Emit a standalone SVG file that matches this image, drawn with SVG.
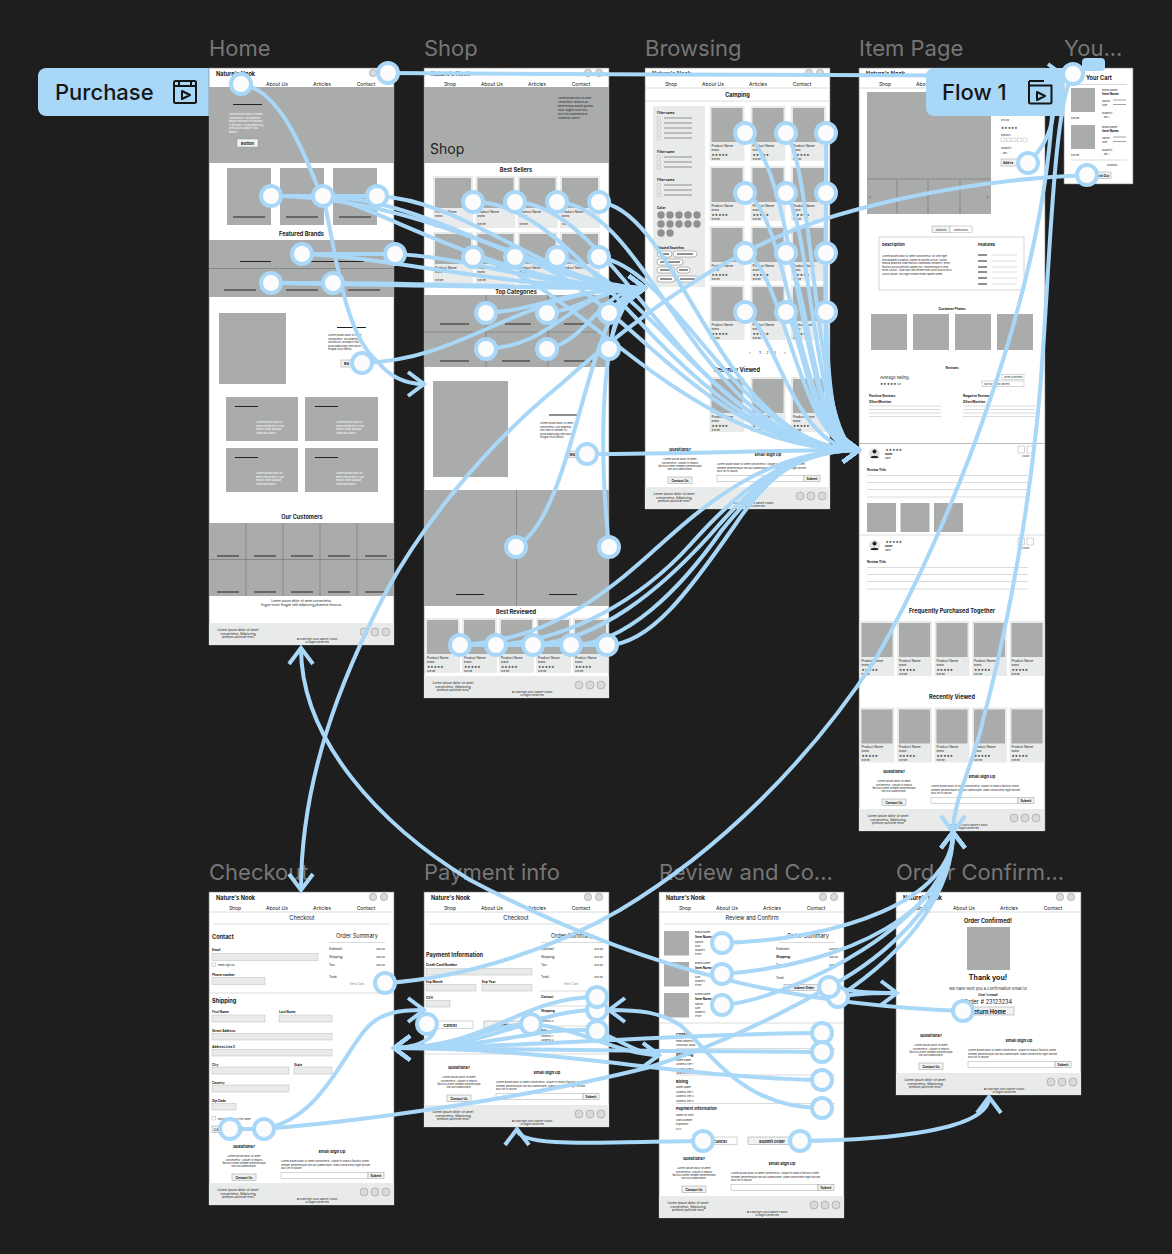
<svg xmlns="http://www.w3.org/2000/svg" width="1172" height="1254" viewBox="0 0 1172 1254">
<style>
text{font-family:Inter,"Liberation Sans",sans-serif;fill:#222}
.title{font-size:22px;fill:#767676}
.s2{font-size:2.6px}.s3{font-size:3.2px}.s4{font-size:4px}.s5{font-size:5px}.s6{font-size:5.6px}.s7{font-size:7px}
.b{font-weight:700}.m{text-anchor:middle}.e{text-anchor:end}.w{fill:#fff}.gt{fill:#8a8a8a}
.star{font-family:"DejaVu Sans",sans-serif;font-size:3.6px;letter-spacing:.1px}
.fr{fill:#fff;stroke:#777;stroke-width:.6}
.g{fill:#aaacab}.l{fill:#e9ebea}
.k{stroke:#222;stroke-width:1;fill:none}.ln{stroke:#c9cbca;stroke-width:.7;fill:none}.v{stroke:#787a79;stroke-width:.7;fill:none}
.in{fill:#e9ebea;stroke:#bbb;stroke-width:.5}.bt{fill:#f1f2f2;stroke:#999;stroke-width:.5}.wb{fill:#fff;stroke:#aaa;stroke-width:.5}
.ic{fill:#d9dbda;stroke:#777;stroke-width:.4}
.badge{fill:#a8d7f8}.bd{font-size:22px;font-weight:500;fill:#161616}.bi{fill:none;stroke:#161616;stroke-width:2;stroke-linejoin:round}
#connectors path{fill:none;stroke:#a8d7f8;stroke-width:4;marker-end:url(#arrow)}
#connectors path.n{marker-end:none}
.h{fill:#fcfcfc;stroke:#a8d7f8;stroke-width:4}
</style>
<defs>
<marker id="arrow" markerUnits="userSpaceOnUse" markerWidth="22" markerHeight="32" viewBox="0 0 22 32" refX="19" refY="16" orient="auto"><path d="M3,4 L19,16 L3,28" fill="none" stroke="#a8d7f8" stroke-width="4"/></marker>
<g id="hdr"><text class="s6 b" x="7" y="8">Nature's Nook</text><circle class="ic" cx="164" cy="5" r="3.7"/><circle class="ic" cx="175" cy="5" r="3.7"/><text class="s5 m" x="26" y="18">Shop</text><text class="s5 m" x="68" y="18">About Us</text><text class="s5 m" x="113" y="18">Articles</text><text class="s5 m" x="157" y="18">Contact</text><path class="ln" d="M0,20H185"/></g>
<g id="foot"><rect class="l" width="185" height="22"/><text class="s3 m" x="29" y="8">Lorem ipsum dolor sit amet</text><text class="s3 m" x="29" y="11.5">consectetur. Adipiscing</text><text class="s3 m" x="29" y="15">pretium pulvinar eros</text><text class="s2 m" x="108" y="17">© Copyright 2024 Nature's Nook</text><text class="s2 m" x="108" y="20">All Rights Reserved</text><circle class="ic" cx="155" cy="9" r="4"/><circle class="ic" cx="166" cy="9" r="4"/><circle class="ic" cx="177" cy="9" r="4"/></g>
<g id="qa"><text class="s4 b m" x="35" y="0">Questions?</text><text class="s2 m" x="35" y="9">Lorem ipsum dolor sit amet</text><text class="s2 m" x="35" y="12.5">consectetur. Aliquet in mauris</text><text class="s2 m" x="35" y="16">facilisis lorem semper pellentesque</text><text class="s2 m" x="35" y="19">non dui ullamcorper.</text><rect class="bt" x="23" y="26" width="24" height="6.5"/><text class="s3 b m" x="35" y="30.5">Contact Us</text><text class="s4 b m" x="123" y="5">Email Sign Up</text><text class="s2" x="72" y="14">Lorem ipsum dolor sit amet consectetur. Aliquet in mauris facilisis lorem</text><text class="s2" x="72" y="17.5">semper pellentesque non dui ullamcorper. Diam consectetur eget dictum</text><text class="s2" x="72" y="21">duis vel in ipsum.</text><rect class="wb" x="72" y="24.5" width="87" height="6"/><rect class="bt" x="159" y="24.5" width="16" height="6"/><text class="s3 b m" x="167" y="29">Submit</text></g>
<g id="card"><rect class="l" width="35" height="55"/><rect class="g" x="2" y="2" width="31" height="34"/><text class="s3" x="2" y="40.5">Product Name</text><text class="s2" x="2" y="44.5">Brand</text><text class="star" x="2" y="49.7">★★★★★</text><text class="s2" x="2" y="53.5">$19.99</text></g>
<g id="card2"><rect class="l" width="40" height="52"/><rect class="g" x="2" y="2" width="36" height="30"/><text class="s3" x="2" y="37">Product Name</text><text class="s2" x="2" y="41">Brand</text><text class="s2" x="2" y="49">$19.99</text></g>
</defs>
<rect width="1172" height="1254" fill="#1e1e1e"/>
<text class="title" x="209" y="56">Home</text>
<text class="title" x="424" y="56">Shop</text>
<text class="title" x="645" y="56">Browsing</text>
<text class="title" x="859" y="56">Item Page</text>
<text class="title" x="1064" y="56">You...</text>
<text class="title" x="209" y="880">Checkout</text>
<text class="title" x="424" y="880">Payment info</text>
<text class="title" x="659" y="880">Review and Co...</text>
<text class="title" x="896" y="880">Order Confirm...</text>
<g id="flow-purchase"><rect class="badge" x="38" y="68" width="190" height="48" rx="8"/><text class="bd" x="55" y="100">Purchase</text><rect class="bi" x="174" y="81" width="22" height="22" rx="1.5"/><path class="bi" d="M174,86H196M179,81V86M191,81V86M182,91L190,95L182,99Z"/></g>

<g id="home"><rect class="fr" x="209" y="68" width="185" height="577"/><use href="#hdr" x="209" y="68"/>
<rect class="g" x="209" y="87" width="185" height="76"/><path class="k" d="M233,104.5H262"/>
<text class="s2 w" x="229" y="115">Lorem ipsum dolor sit amet</text><text class="s2 w" x="229" y="118.5">consectetur. Dui pharetra</text><text class="s2 w" x="229" y="122">neque sed dolor in volutpat</text><text class="s2 w" x="229" y="125.5">in faucibus. Nulla adipiscing</text><text class="s2 w" x="229" y="129">sem auctor aliquet risus</text><text class="s2 w" x="229" y="132.5">facilisi.</text>
<rect class="bt" x="237" y="139" width="21" height="8"/><text class="s4 b m" x="247.500" y="144.500">Button</text>
<rect class="g" x="227" y="168" width="44" height="57"/><rect class="g" x="280" y="168" width="44" height="57"/><rect class="g" x="333" y="168" width="44" height="57"/>
<path class="k" d="M233,217H265M286,217H318M339,217H371"/>
<text class="s6 b m" x="301.500" y="236">Featured Brands</text>
<rect class="g" x="209" y="240" width="185" height="57"/><path class="v" d="M209,268.500H394"/>
<path class="k" d="M240,261.500H271M302,261.500H334M337,261.500H364M224,290H256M286,290H318M348,290H380"/>
<rect class="g" x="219" y="313" width="67" height="71"/><path class="k" d="M337,327.500H366"/>
<text class="s2" x="328" y="336">Lorem ipsum dolor sit amet</text><text class="s2" x="328" y="339.500">consectetur. Dui pharetra</text><text class="s2" x="328" y="343">sed facilisi volutpat in fau.</text><text class="s2" x="328" y="346.500">Nulla adipiscing sem aucto</text><text class="s2" x="328" y="350">feugiat risus facilisi.</text>
<rect class="bt" x="341" y="360" width="21" height="7"/><text class="s4 b" x="344" y="365">Ba</text>
<rect class="g" x="226" y="397" width="72" height="44"/><rect class="g" x="305" y="397" width="73" height="44"/><rect class="g" x="226" y="448" width="72" height="44"/><rect class="g" x="305" y="448" width="73" height="44"/>
<path class="k" d="M235,406.500H258M315,406.500H338M235,457.500H258M315,457.500H338"/>
<text class="s2 w" x="256" y="423">Lorem ipsum dolor sit</text><text class="s2 w" x="256" y="426.500">amet consectetur. Duis</text><text class="s2 w" x="256" y="430">mauris vitae aliquam</text><text class="s2 w" x="256" y="433.500">vitae odio libero.</text>
<text class="s2 w" x="336" y="423">Lorem ipsum dolor sit</text><text class="s2 w" x="336" y="426.500">amet consectetur. Duis</text><text class="s2 w" x="336" y="430">mauris vitae aliquam</text><text class="s2 w" x="336" y="433.500">vitae odio libero.</text>
<text class="s2 w" x="256" y="474">Lorem ipsum dolor sit</text><text class="s2 w" x="256" y="477.500">amet consectetur. Duis</text><text class="s2 w" x="256" y="481">mauris vitae aliquam</text><text class="s2 w" x="256" y="484.500">vitae odio libero.</text>
<text class="s2 w" x="336" y="474">Lorem ipsum dolor sit</text><text class="s2 w" x="336" y="477.500">amet consectetur. Duis</text><text class="s2 w" x="336" y="481">mauris vitae aliquam</text><text class="s2 w" x="336" y="484.500">vitae odio libero.</text>
<text class="s6 b m" x="302" y="519">Our Customers</text>
<rect class="g" x="209" y="523" width="185" height="73"/><path class="v" d="M209,559.500H394M246,523V596M283,523V596M320,523V596M357,523V596"/>
<path class="k" d="M217,556H239M254,556H276M291,556H313M328,556H350M365,556H387M217,592H239M254,592H276M291,592H313M328,592H350M365,592H387"/>
<text class="s3 m" x="301.500" y="601.500">Lorem ipsum dolor sit amet consectetur.</text><text class="s3 m" x="301.500" y="605.500">Augue tortor feugiat velit adipiscing pharetra rhoncus.</text>
<use href="#foot" x="209" y="623"/></g>

<g id="shop"><rect class="fr" x="424" y="68" width="185" height="630"/><use href="#hdr" x="424" y="68"/>
<rect class="g" x="424" y="87" width="185" height="76"/>
<text class="s2" x="558" y="98.500">Lorem ipsum dolor sit amet</text><text class="s2" x="558" y="102.500">consectetur. Rhoncus ac</text><text class="s2" x="558" y="106.500">pellentesque blandit gravida</text><text class="s2" x="558" y="110.500">nulla. Sagittis nulla risus</text><text class="s2" x="558" y="114.500">arcu nisi suspendisse at</text><text class="s2" x="558" y="118.500">commodo viverra.</text>
<text x="430" y="153.500" font-size="14">Shop</text>
<text class="s6 b m" x="516" y="172">Best Sellers</text>
<use href="#card2" x="433" y="176"/><use href="#card2" x="475.500" y="176"/><use href="#card2" x="517.500" y="176"/><use href="#card2" x="560" y="176"/>
<use href="#card2" x="433" y="232"/><use href="#card2" x="475.500" y="232"/><use href="#card2" x="517.500" y="232"/><use href="#card2" x="560" y="232"/>
<text class="s6 b m" x="516" y="294">Top Categories</text>
<rect class="g" x="424" y="295" width="185" height="72"/><path class="v" d="M424,332H609M486,295V367M548,295V367"/>
<path class="k" d="M440,324H469M505,324H531M564,324H592M440,361H469M502,361H530M564,361H592"/>
<rect class="g" x="433" y="381" width="75" height="96"/><path class="k" d="M549,415H578"/>
<text class="s2" x="540" y="424">Lorem ipsum dolor sit amet</text><text class="s2" x="540" y="427.500">consectetur. Dui pharetra</text><text class="s2" x="540" y="431">non nibh in semper fu</text><text class="s2" x="540" y="434.500">Nulla adipiscing sem aucto</text><text class="s2" x="540" y="438">feugiat risus facilisi.</text>
<rect class="bt" x="569" y="451" width="12" height="6.500"/><text class="s4 b" x="570" y="456">Bu</text>
<rect class="g" x="424" y="490" width="185" height="116"/><path class="v" d="M516.500,490V606"/><path class="k" d="M456,594.500H484M549,594.500H577"/>
<text class="s6 b m" x="516" y="614">Best Reviewed</text>
<use href="#card" x="425" y="618"/><use href="#card" x="462" y="618"/><use href="#card" x="499" y="618"/><use href="#card" x="536" y="618"/><use href="#card" x="573" y="618"/>
<use href="#foot" x="424" y="676"/></g>

<g id="browsing"><rect class="fr" x="645" y="68" width="185" height="441"/><use href="#hdr" x="645" y="68"/>
<text class="s6 b m" x="737.500" y="96.500">Camping</text><path class="ln" d="M645,101H830"/>
<rect class="l" x="653" y="106" width="52" height="181"/>
<text class="s3 b" x="657" y="114">Filter name</text><text class="s3 b" x="657" y="153">Filter name</text><text class="s3 b" x="657" y="181">Filter name</text><text class="s3 b" x="657" y="209">Color</text><text class="s3 b" x="657" y="249">Related Searches</text>
<path class="ln" stroke-width=".5" d="M657,116.500h3.500v3.500h-3.500zM657,121.500h3.500v3.500h-3.500zM657,126.500h3.500v3.500h-3.500zM657,131.500h3.500v3.500h-3.500zM657,136.500h3.500v3.500h-3.500zM657,155.500h3.500v3.500h-3.500zM657,160.500h3.500v3.500h-3.500zM657,165.500h3.500v3.500h-3.500zM657,183.500h3.500v3.500h-3.500zM657,188.500h3.500v3.500h-3.500zM657,193.500h3.500v3.500h-3.500z"/>
<path stroke="#555" stroke-width=".6" fill="none" d="M664,118H692M664,123H692M664,128H692M664,133H692M664,138H692M664,157H692M664,162H692M664,167H692M664,185H692M664,190H692M664,195H692"/>
<g fill="#8f9190"><circle cx="661" cy="215" r="3.700"/><circle cx="670" cy="215" r="3.700"/><circle cx="679" cy="215" r="3.700"/><circle cx="688" cy="215" r="3.700"/><circle cx="697" cy="215" r="3.700"/><circle cx="661" cy="224" r="3.700"/><circle cx="670" cy="224" r="3.700"/><circle cx="679" cy="224" r="3.700"/><circle cx="688" cy="224" r="3.700"/><circle cx="697" cy="224" r="3.700"/><circle cx="661" cy="233" r="3.700"/><circle cx="670" cy="233" r="3.700"/></g>
<g fill="#fff" stroke="#555" stroke-width=".4"><rect x="657" y="251" width="15" height="6" rx="3"/><rect x="673" y="251" width="24" height="6" rx="3"/><rect x="657" y="259" width="26" height="6" rx="3"/><rect x="657" y="267" width="18" height="6" rx="3"/><rect x="677" y="267" width="13" height="6" rx="3"/><rect x="657" y="276" width="18" height="6" rx="3"/><rect x="677" y="276" width="21" height="6" rx="3"/></g>
<path class="k" stroke-width=".7" d="M660,254H669M677,254H693M660,262H680M660,270H672M679,270H688M660,279H672M680,279H695"/>
<use href="#card" x="709.500" y="106"/><use href="#card" x="750.500" y="106"/><use href="#card" x="791" y="106"/>
<use href="#card" x="709.500" y="166"/><use href="#card" x="750.500" y="166"/><use href="#card" x="791" y="166"/>
<use href="#card" x="709.500" y="226"/><use href="#card" x="750.500" y="226"/><use href="#card" x="791" y="226"/>
<use href="#card" x="709.500" y="285"/><use href="#card" x="750.500" y="285"/><use href="#card" x="791" y="285"/>
<text class="s4 m" x="750" y="353.500">‹</text><text class="s3 b m" x="760" y="353.500">1</text><text class="s3 m" x="767.500" y="353.500">2</text><text class="s3 m" x="775" y="353.500">3</text><text class="s4 m" x="785" y="353.500">›</text>
<text class="s6 b m" x="737" y="372">Recently Viewed</text>
<use href="#card" x="709.500" y="377"/><use href="#card" x="750.500" y="377"/><use href="#card" x="791" y="377"/>
<use href="#qa" x="645" y="451"/><use href="#foot" x="645" y="487"/></g>

<g id="item-page"><rect class="fr" x="859" y="68" width="186" height="763"/><use href="#hdr" x="859" y="68"/>
<rect class="g" x="867" y="92" width="124" height="122"/><path class="v" d="M867,179H991M897,179V214M928,179V214M960,179V214"/>
<text class="s5 m" x="870" y="198.500">‹</text><text class="s5 m" x="987.500" y="198.500">›</text>
<text class="s2" x="1001" y="120.500">$15.00</text><text class="star" x="1001" y="129">★★★★★</text><text class="s2" x="1001" y="136">Options</text>
<path class="ln" stroke="#555" d="M1001,138h4v3.500h-4zM1006.500,138h4v3.500h-4zM1012,138h4v3.500h-4zM1017.500,138h4v3.500h-4zM1023,138h4v3.500h-4z"/>
<text class="s2" x="1001" y="149">Quantity</text><text class="s2" x="1001" y="154">- 99 +</text>
<rect class="bt" x="1001" y="159" width="19" height="7"/><text class="s3 b" x="1003" y="164">Add to</text>
<rect class="bt" x="932" y="226" width="18" height="6.500"/><rect class="wb" x="950" y="226" width="22" height="6.500"/><text class="s2 m" x="941" y="230.500">Features</text><text class="s2 m" x="961" y="230.500">Dimensions</text>
<rect class="wb" x="879" y="237" width="145" height="53"/><text class="s4 b" x="882" y="246">Description</text><text class="s4 b" x="978" y="246">Features</text>
<text class="s2" x="882" y="257">Lorem ipsum dolor sit amet consectetur. Sit velit eget</text><text class="s2" x="882" y="260.500">sed aliquam curabitur, donec at lacinia cursus. Morbi</text><text class="s2" x="882" y="264">massa pharetra vitae facilisis commodo hendrerit. Enim</text><text class="s2" x="882" y="267.500">facilisis purus pretium sapien nisl. Pellentesque in erat</text><text class="s2" x="882" y="271">enim cursus. Vitae quis sed fermentum sociis purus arcu</text><text class="s2" x="882" y="274.500">luctus ipsum. Nisl eget ornare etiam sapien lorem.</text>
<path class="k" d="M978,255H987M978,261H987M978,267H987M978,272H987M978,278H987M978,284H987"/><path class="ln" d="M992,255H1017M992,261H1017M992,267H1017M992,272H1017M992,278H1017M992,284H1017"/>
<text class="s3 b m" x="952" y="309.500">Customer Photos</text>
<rect class="g" x="871" y="314" width="36" height="36"/><rect class="g" x="913" y="314" width="36" height="36"/><rect class="g" x="955" y="314" width="36" height="36"/><rect class="g" x="997" y="314" width="36" height="36"/>
<text class="s3 b m" x="952" y="368.500">Reviews</text><text class="s4" x="880" y="378.500">Average Rating:</text><text class="star" x="880" y="384.500">★★★★★</text><text class="s2" x="897" y="384.500">4.9</text>
<rect class="wb" x="1002" y="374.500" width="22" height="5"/><text class="s2 m" x="1013" y="378">Write a Review</text><rect class="wb" x="982" y="381" width="42" height="5.500"/><text class="s2" x="984" y="385">Sort by: Most Recent</text>
<text class="s3 b" x="869" y="396.500">Positive Reviews</text><text class="s3 b" x="869" y="402.500">Often Mention</text><text class="s3 b" x="963" y="396.500">Negative Reviews</text><text class="s3 b" x="963" y="402.500">Often Mention</text>
<path class="ln" d="M869,406H941M869,409.500H941M869,413H941M869,416.500H941M963,406H1035M963,409.500H1035M963,413H1035M963,416.500H1035"/>
<path stroke="#aaa" stroke-width=".8" d="M859,443.500H1045"/>
<circle cx="874.500" cy="453.500" r="5.500" fill="#e2e3e3"/><circle cx="874.500" cy="451.500" r="2" fill="#222"/><path d="M870.500,458c0-3,8-3,8,0z" fill="#222"/>
<text class="star" x="885.500" y="450.500">★★★★★</text><text class="s2 b" x="885" y="455">Name</text><text class="s2" x="885" y="459">Date</text>
<rect class="wb" x="1018" y="446" width="6.500" height="7"/><rect class="wb" x="1027" y="446" width="6.500" height="7"/><text class="s2" x="1022" y="457">Count</text>
<text class="s3 b" x="867" y="470.500">Review Title</text><path class="ln" d="M867,475.500H1028M867,482.500H1028M867,489.500H1028M867,497H1028"/>
<rect class="g" x="867" y="503" width="29" height="29"/><rect class="g" x="900.500" y="503" width="29" height="29"/><rect class="g" x="934" y="503" width="29" height="29"/><path class="ln" d="M859,535H1045"/>
<circle cx="874.500" cy="545.500" r="5.500" fill="#e2e3e3"/><circle cx="874.500" cy="543.500" r="2" fill="#222"/><path d="M870.500,550c0-3,8-3,8,0z" fill="#222"/>
<text class="star" x="885.500" y="542.500">★★★★★</text><text class="s2 b" x="885" y="547">Name</text><text class="s2" x="885" y="551">Date</text>
<rect class="wb" x="1018" y="538" width="6.500" height="7"/><rect class="wb" x="1027" y="538" width="6.500" height="7"/><text class="s2" x="1022" y="549">Count</text>
<text class="s3 b" x="867" y="562.500">Review Title</text><path class="ln" d="M867,567.500H1028M867,574.500H1028M867,581.500H1028M867,589H1028"/>
<text class="s6 b m" x="952" y="612.500">Frequently Purchased Together</text>
<use href="#card" x="859.500" y="621"/><use href="#card" x="897" y="621"/><use href="#card" x="934.500" y="621"/><use href="#card" x="972" y="621"/><use href="#card" x="1009.500" y="621"/>
<text class="s6 b m" x="952" y="699">Recently Viewed</text>
<use href="#card" x="859.500" y="707.500"/><use href="#card" x="897" y="707.500"/><use href="#card" x="934.500" y="707.500"/><use href="#card" x="972" y="707.500"/><use href="#card" x="1009.500" y="707.500"/>
<use href="#qa" x="859" y="773"/><use href="#foot" x="859" y="809"/></g>

<g id="your-cart"><rect class="fr" x="1064" y="68" width="69" height="116"/>
<text class="s6 b m" x="1099" y="80">Your Cart</text><path class="ln" d="M1071,84.500H1127M1071,160H1127"/>
<rect class="g" x="1071" y="88" width="24" height="24"/><rect class="g" x="1071" y="125" width="24" height="24"/>
<text class="s2" x="1071" y="118.500">$19.99</text><text class="s2" x="1102" y="90.500">Brand Name</text><text class="s3 b" x="1102" y="95">Item Name</text><text class="s2" x="1102" y="101.500">Option</text><text class="s2" x="1102" y="105.500">Size</text><text class="s2" x="1102" y="113.500">Quantity</text><text class="s2" x="1102" y="117.500">- 99 +</text>
<text class="s2" x="1071" y="155.500">$19.99</text><text class="s2" x="1102" y="127.500">Brand Name</text><text class="s3 b" x="1102" y="132">Item Name</text><text class="s2" x="1102" y="138.500">Option</text><text class="s2" x="1102" y="142.500">Size</text><text class="s2" x="1102" y="150.500">Quantity</text><text class="s2" x="1102" y="154.500">- 99 +</text>
<path class="v" d="M1113,100H1126M1113,104.500H1126M1113,137H1126M1113,141.500H1126"/>
<text class="s2 m" x="1112" y="165.500">Subtotal</text><rect class="bt" x="1092" y="172" width="19" height="6.500"/><text class="s3 b m" x="1101" y="176.500">Check Out</text></g>

<g id="checkout"><rect class="fr" x="209" y="892" width="185" height="313"/><use href="#hdr" x="209" y="892"/>
<text class="s6 m" x="302" y="920">Checkout</text><path class="ln" d="M214,924H389"/>
<text class="s6 b" x="212" y="939">Contact</text><text class="s3 b" x="212" y="951">Email</text><rect class="in" x="212" y="953.500" width="106" height="7"/><rect class="wb" x="212" y="963" width="3.500" height="3.500"/><text class="s2" x="218" y="965.500">Email sign up</text>
<text class="s3 b" x="212" y="976">Phone number</text><rect class="in" x="212" y="977.500" width="53" height="7"/>
<text class="s6 m" x="357" y="938">Order Summary</text><path class="ln" d="M329,942.500H385"/>
<text class="s3" x="329" y="950">Subtotal:</text><text class="s3" x="329" y="958">Shipping:</text><text class="s3" x="329" y="965.500">Tax:</text><text class="s3" x="329" y="977.500">Total:</text><text class="s2 e" x="385" y="950">$20.00</text><text class="s2 e" x="385" y="958">$20.00</text><text class="s2 e" x="385" y="965.500">$20.00</text><text class="s2 e" x="385" y="977.500">$20.00</text><text class="s3 m gt" x="357" y="985">View Cart</text>
<path class="ln" d="M209,993H394"/><text class="s6 b" x="212" y="1003">Shipping</text>
<text class="s3 b" x="212" y="1013">First Name</text><rect class="in" x="212" y="1015" width="53" height="7"/><text class="s3 b" x="279" y="1013">Last Name</text><rect class="in" x="279" y="1015" width="53" height="7"/>
<text class="s3 b" x="212" y="1032">Street Address</text><rect class="in" x="212" y="1033.500" width="120" height="6.500"/><text class="s3 b" x="212" y="1047.500">Address Line 2</text><rect class="in" x="212" y="1049.500" width="120" height="6.500"/>
<text class="s3 b" x="212" y="1066">City</text><rect class="in" x="212" y="1067" width="77" height="7"/><text class="s3 b" x="294" y="1066">State</text><rect class="in" x="294" y="1067" width="38" height="7"/>
<text class="s3 b" x="212" y="1084">Country</text><rect class="in" x="212" y="1085" width="77" height="7"/><text class="s3 b" x="212" y="1102">Zip Code</text><rect class="in" x="212" y="1103.500" width="24" height="6.500"/>
<rect class="wb" x="212" y="1116.500" width="3.500" height="3.500"/><text class="s2" x="218" y="1119.500">Billing address is the same</text>
<rect class="bt" x="212" y="1126" width="30" height="6.500"/><text class="s4" x="213.500" y="1131">Ca</text>
<use href="#qa" x="209" y="1148"/><use href="#foot" x="209" y="1183"/></g>

<g id="payment-info"><rect class="fr" x="424" y="892" width="185" height="235"/><use href="#hdr" x="424" y="892"/>
<text class="s6 m" x="516" y="920">Checkout</text><path class="ln" d="M429,924H604"/>
<text class="s6 b" x="426" y="957">Payment Information</text><text class="s3 b" x="426" y="966">Credit Card Number</text><rect class="in" x="426" y="968.500" width="106" height="6.500"/>
<text class="s3 b" x="426" y="983">Exp Month</text><rect class="in" x="426" y="984.500" width="50" height="6.500"/><text class="s3 b" x="482" y="983">Exp Year</text><rect class="in" x="482" y="984.500" width="50" height="6.500"/>
<text class="s3 b" x="426" y="999">CVV</text><rect class="in" x="426" y="1000.500" width="24" height="6.500"/>
<rect class="wb" x="430" y="1021" width="43" height="7.500"/><text class="s4 b m" x="450" y="1026.500">Cancel</text><rect class="bt" x="484" y="1021" width="46" height="7.500"/><text class="s4 b m" x="507" y="1026.500">Continue</text>
<text class="s6 m" x="572" y="938">Order Summary</text><path class="ln" d="M541,942.500H604"/>
<text class="s3" x="541" y="950">Subtotal:</text><text class="s3" x="541" y="958">Shipping:</text><text class="s3" x="541" y="965.500">Tax:</text><text class="s3" x="541" y="977.500">Total:</text><text class="s2 e" x="603" y="950">$20.00</text><text class="s2 e" x="603" y="958">$20.00</text><text class="s2 e" x="603" y="965.500">$20.00</text><text class="s2 e" x="603" y="977.500">$20.00</text><text class="s3 m gt" x="571" y="985">View Cart</text>
<path class="ln" d="M540,991H604M540,1006H604M540,1026H604M424,1054H609"/><text class="s3 b" x="541" y="998">Contact</text><text class="s3 b" x="541" y="1012">Shipping</text><text class="s2" x="541" y="1018">Address 1</text><text class="s2" x="541" y="1022">Address 2</text><text class="s3 b" x="541" y="1032">Billing</text><text class="s2" x="541" y="1037">Address 1</text><text class="s2" x="541" y="1041">Address 2</text><text class="s2" x="541" y="1045">Address 3</text>
<use href="#qa" x="424" y="1069"/><use href="#foot" x="424" y="1105"/></g>

<g id="review-and-confirm"><rect class="fr" x="659" y="892" width="185" height="326"/><use href="#hdr" x="659" y="892"/>
<text class="s6 m" x="752" y="920">Review and Confirm</text><path class="ln" d="M664,924H839"/>
<rect class="g" x="664" y="931" width="25" height="24.500"/><rect class="g" x="664" y="962" width="25" height="24.500"/><rect class="g" x="664" y="993" width="25" height="24.500"/>
<text class="s2" x="695" y="933">Brand Name</text><text class="s3 b" x="695" y="937.500">Item Name</text><text class="s2" x="695" y="942.500">Option:</text><text class="s2" x="695" y="947">Size:</text><text class="s2" x="695" y="951">Quantity:</text><text class="s2" x="695" y="955">Price:</text>
<text class="s2" x="695" y="964">Brand Name</text><text class="s3 b" x="695" y="968.500">Item Name</text><text class="s2" x="695" y="973.500">Option:</text><text class="s2" x="695" y="978">Size:</text><text class="s2" x="695" y="982">Quantity:</text><text class="s2" x="695" y="986">Price:</text>
<text class="s2" x="695" y="995">Brand Name</text><text class="s3 b" x="695" y="999.500">Item Name</text><text class="s2" x="695" y="1004.500">Option:</text><text class="s2" x="695" y="1009">Size:</text><text class="s2" x="695" y="1013">Quantity:</text><text class="s2" x="695" y="1017">Price:</text>
<text class="s6 m" x="808" y="938">Order Summary</text><path class="ln" d="M779,942.500H835"/>
<text class="s3" x="776" y="950">Subtotal:</text><text class="s3 b" x="776" y="958">Shipping:</text><text class="s3" x="776" y="966">Tax:</text><text class="s3" x="776" y="979">Total:</text><text class="s2 e" x="838" y="950">$20.00</text><text class="s2 e" x="838" y="958">$20.00</text><text class="s2 e" x="838" y="966">$20.00</text>
<rect class="bt" x="784" y="984.500" width="41" height="6"/><text class="s3 b m" x="804" y="989">Submit Order</text>
<path class="ln" d="M659,1023H844M676,1048.500H835M676,1075H835M676,1103.500H835"/>
<text class="s4 b" x="676" y="1036">Contact</text><text class="s2" x="676" y="1042">Email address</text><text class="s2" x="676" y="1046">(000)000-0000</text>
<text class="s4 b" x="676" y="1056">Shipping</text><text class="s2" x="676" y="1060.500">Name Name</text><text class="s2" x="676" y="1065">Address line 1</text><text class="s2" x="676" y="1069.500">Address line 2</text><text class="s2" x="676" y="1073.500">Address line 3</text>
<text class="s4 b" x="676" y="1083">Billing</text><text class="s2" x="676" y="1088">Name Name</text><text class="s2" x="676" y="1092.500">Address line 1</text><text class="s2" x="676" y="1097">Address line 2</text><text class="s2" x="676" y="1101.500">Address line 3</text>
<text class="s4 b" x="676" y="1110">Payment Information</text><text class="s2" x="676" y="1116">Name on card</text><text class="s2" x="676" y="1120.500">Card Number</text><text class="s2" x="676" y="1125">Expiration</text><text class="s2" x="676" y="1129.500">CVV</text>
<rect class="wb" x="703" y="1137" width="34" height="7.500"/><text class="s4 b m" x="720" y="1142.500">Cancel</text><rect class="bt" x="748" y="1137" width="57" height="7.500"/><text class="s4 b m" x="772" y="1142.500">Submit Order</text>
<use href="#qa" x="659" y="1160"/><use href="#foot" x="659" y="1196"/></g>

<g id="order-confirmation"><rect class="fr" x="896" y="892" width="185" height="203"/><use href="#hdr" x="896" y="892"/>
<text class="s6 b m" x="988" y="923">Order Confirmed!</text><rect class="g" x="967" y="927" width="43" height="43"/>
<text class="s7 b m" x="988" y="979.500">Thank you!</text><text class="s4 m" x="988" y="990">We have sent you a confirmation email to</text><text class="s3 b m" x="988" y="995.500">User's email</text><text class="s6 m" x="988" y="1004">Order # 23123234</text>
<rect class="bt" x="963" y="1007" width="51" height="8"/><text class="s6 b m" x="988" y="1013.500">Return Home</text>
<use href="#qa" x="896" y="1037"/><use href="#foot" x="896" y="1073"/></g>

<g id="connectors">
<path d="M241,84C285,90 310,170 325,205C337,260 345,335 378,362C390,377 405,384 424,384"/>
<path d="M388,73C600,74 900,76 1064,76"/>
<path class="n" d="M271,196H377M302,254H395M271,283H333M460,645H607M230,1129H264"/>
<path d="M271,196C430,196 560,288 645,288"/>
<path d="M323,196C440,200 540,288 645,288"/>
<path d="M377,196C470,200 550,288 645,288"/>
<path d="M323,196C380,205 500,288 645,288"/>
<path d="M302,254C400,258 500,288 645,288"/>
<path d="M395,254C480,258 540,288 645,288"/>
<path d="M271,283C400,285 500,288 645,288"/>
<path d="M333,283C450,284 540,288 645,288"/>
<path d="M362,363C470,360 520,288 645,288"/>
<path d="M486,313C540,310 570,288 645,288"/>
<path d="M547,313C580,310 600,288 645,288"/>
<path d="M609,313C620,300 630,288 645,288"/>
<path d="M486,349C560,345 570,288 645,288"/>
<path d="M547,349C590,340 600,288 645,288"/>
<path d="M609,349C615,320 630,288 645,288"/>
<path d="M516,547C580,510 585,288 645,288"/>
<path d="M609,547C598,440 600,288 645,288"/>
<path d="M473,202C590,200 680,450 859,450"/>
<path d="M515,202C620,205 690,450 859,450"/>
<path d="M557,202C650,205 700,450 859,450"/>
<path d="M599,202C680,210 720,450 859,450"/>
<path d="M473,257C580,280 680,450 859,450"/>
<path d="M515,257C620,280 700,450 859,450"/>
<path d="M557,257C650,275 720,450 859,450"/>
<path d="M599,257C680,270 740,450 859,450"/>
<path d="M745,133C800,170 800,450 859,450"/>
<path d="M786,133C815,170 815,450 859,450"/>
<path d="M826,133C828,250 815,450 859,450"/>
<path d="M745,193C790,210 800,450 859,450"/>
<path d="M786,193C812,230 815,450 859,450"/>
<path d="M826,193C826,280 818,450 859,450"/>
<path d="M745,253C785,270 800,450 859,450"/>
<path d="M786,253C810,290 815,450 859,450"/>
<path d="M826,253C826,320 820,450 859,450"/>
<path d="M745,312C775,330 795,450 859,450"/>
<path d="M786,312C805,340 812,450 859,450"/>
<path d="M826,312C826,370 820,450 859,450"/>
<path d="M587,454C680,454 780,450 859,450"/>
<path d="M460,645C560,640 620,580 660,545C710,500 770,450 859,450"/>
<path d="M496,645C570,640 640,600 690,545C730,500 780,450 859,450"/>
<path d="M533,645C600,640 660,590 710,535C745,495 785,450 859,450"/>
<path d="M571,645C625,645 680,590 722,530C755,490 790,450 859,450"/>
<path d="M607,645C650,645 690,590 735,525C765,480 795,450 859,450"/>
<path d="M1087,175C960,180 820,210 745,253C680,285 610,340 560,385C480,450 420,530 387,590C340,680 301,780 301,890"/>
<path d="M963,1011C800,1005 650,975 470,880C380,825 301,740 301,648"/>
<path d="M1073,74C1055,100 1050,250 1043,350C1035,480 1010,620 983,720C975,760 953,800 953,832"/>
<path d="M722,943C840,940 953,900 953,832"/>
<path d="M722,974C850,965 953,910 953,832"/>
<path d="M722,1005C790,1000 953,920 953,832"/>
<path d="M829,987C880,960 953,900 953,832"/>
<path d="M838,997C910,950 953,890 953,832"/>
<path class="n" d="M264,1129C400,1118 560,1090 650,1067C720,1045 780,1015 829,987"/>
<path class="n" d="M829,987C860,993 875,993 897,993"/>
<path d="M838,997C860,993 875,993 897,993"/>
<path class="n" d="M385,983C470,978 560,945 620,910C720,850 810,760 875,660C950,530 1040,300 1052,116"/>
<path class="n" d="M1028,163C1042,150 1050,135 1053,116"/>
<path d="M264,1129C320,1118 340,1060 365,1030C380,1012 400,1010 424,1010"/>
<path d="M427,1024C445,1030 425,1048 394,1048"/>
<path d="M531,1024C490,1024 460,1048 394,1048"/>
<path d="M597,997C520,997 490,1048 394,1048"/>
<path d="M597,1010C530,1010 500,1048 394,1048"/>
<path d="M597,1031C540,1025 500,1048 394,1048"/>
<path d="M822,1033C680,1033 520,1048 394,1048"/>
<path d="M822,1052C680,1052 520,1048 394,1048"/>
<path d="M822,1080C680,1078 560,1048 394,1048"/>
<path d="M822,1108C740,1108 710,1050 680,1025C660,1012 640,1010 609,1010"/>
<path d="M531,1024C580,1028 620,1055 659,1055"/>
<path d="M597,1031C620,1040 640,1055 659,1055"/>
<path d="M703,1141C620,1141 517,1150 517,1129"/>
<path d="M800,1141C890,1140 989,1130 989,1097"/>
</g>
<g id="hotspots">
<circle class="h" cx="241" cy="84" r="10"/><circle class="h" cx="388" cy="73" r="10"/><circle class="h" cx="271" cy="196" r="10"/><circle class="h" cx="323" cy="196" r="10"/><circle class="h" cx="377" cy="196" r="10"/><circle class="h" cx="302" cy="254" r="10"/><circle class="h" cx="395" cy="254" r="10"/><circle class="h" cx="271" cy="283" r="10"/><circle class="h" cx="333" cy="283" r="10"/><circle class="h" cx="362" cy="363" r="10"/>
<circle class="h" cx="473" cy="202" r="10"/><circle class="h" cx="515" cy="202" r="10"/><circle class="h" cx="557" cy="202" r="10"/><circle class="h" cx="599" cy="202" r="10"/><circle class="h" cx="473" cy="257" r="10"/><circle class="h" cx="515" cy="257" r="10"/><circle class="h" cx="557" cy="257" r="10"/><circle class="h" cx="599" cy="257" r="10"/>
<circle class="h" cx="486" cy="313" r="10"/><circle class="h" cx="547" cy="313" r="10"/><circle class="h" cx="609" cy="313" r="10"/><circle class="h" cx="486" cy="349" r="10"/><circle class="h" cx="547" cy="349" r="10"/><circle class="h" cx="609" cy="349" r="10"/><circle class="h" cx="587" cy="454" r="10"/><circle class="h" cx="516" cy="547" r="10"/><circle class="h" cx="609" cy="547" r="10"/>
<circle class="h" cx="460" cy="645" r="10"/><circle class="h" cx="496" cy="645" r="10"/><circle class="h" cx="533" cy="645" r="10"/><circle class="h" cx="571" cy="645" r="10"/><circle class="h" cx="607" cy="645" r="10"/>
<circle class="h" cx="745" cy="133" r="10"/><circle class="h" cx="786" cy="133" r="10"/><circle class="h" cx="826" cy="133" r="10"/><circle class="h" cx="745" cy="193" r="10"/><circle class="h" cx="786" cy="193" r="10"/><circle class="h" cx="826" cy="193" r="10"/><circle class="h" cx="745" cy="253" r="10"/><circle class="h" cx="786" cy="253" r="10"/><circle class="h" cx="826" cy="253" r="10"/><circle class="h" cx="745" cy="312" r="10"/><circle class="h" cx="786" cy="312" r="10"/><circle class="h" cx="826" cy="312" r="10"/>
<circle class="h" cx="1028" cy="163" r="10"/><circle class="h" cx="1087" cy="175" r="10"/>
<circle class="h" cx="385" cy="983" r="10"/><circle class="h" cx="230" cy="1129" r="10"/><circle class="h" cx="264" cy="1129" r="10"/>
<circle class="h" cx="427" cy="1024" r="10"/><circle class="h" cx="531" cy="1024" r="10"/><circle class="h" cx="597" cy="1031" r="10"/><circle class="h" cx="597" cy="1010" r="10"/><circle class="h" cx="597" cy="997" r="10"/>
<circle class="h" cx="722" cy="943" r="10"/><circle class="h" cx="722" cy="974" r="10"/><circle class="h" cx="722" cy="1005" r="10"/><circle class="h" cx="838" cy="997" r="10"/><circle class="h" cx="829" cy="987" r="10"/><circle class="h" cx="822" cy="1033" r="10"/><circle class="h" cx="822" cy="1052" r="10"/><circle class="h" cx="822" cy="1080" r="10"/><circle class="h" cx="822" cy="1108" r="10"/><circle class="h" cx="703" cy="1141" r="10"/><circle class="h" cx="800" cy="1141" r="10"/><circle class="h" cx="963" cy="1011" r="10"/>
</g>
<g id="flow-1"><rect class="badge" x="1082" y="58" width="23" height="13" rx="4"/><path class="badge" d="M934,68H1064V116H934a8,8 0 0 1-8-8V76a8,8 0 0 1 8-8z"/><text class="bd" x="942" y="100">Flow 1</text><path class="bi" d="M1029,81H1044M1029,81V102a1.500,1.500 0 0 0 1.500,1.500H1050a1.500,1.500 0 0 0 1.500-1.500V85.500H1029M1037,92L1045,96L1037,100Z"/></g>
<circle class="h" cx="1073" cy="74" r="10"/>
</svg>
